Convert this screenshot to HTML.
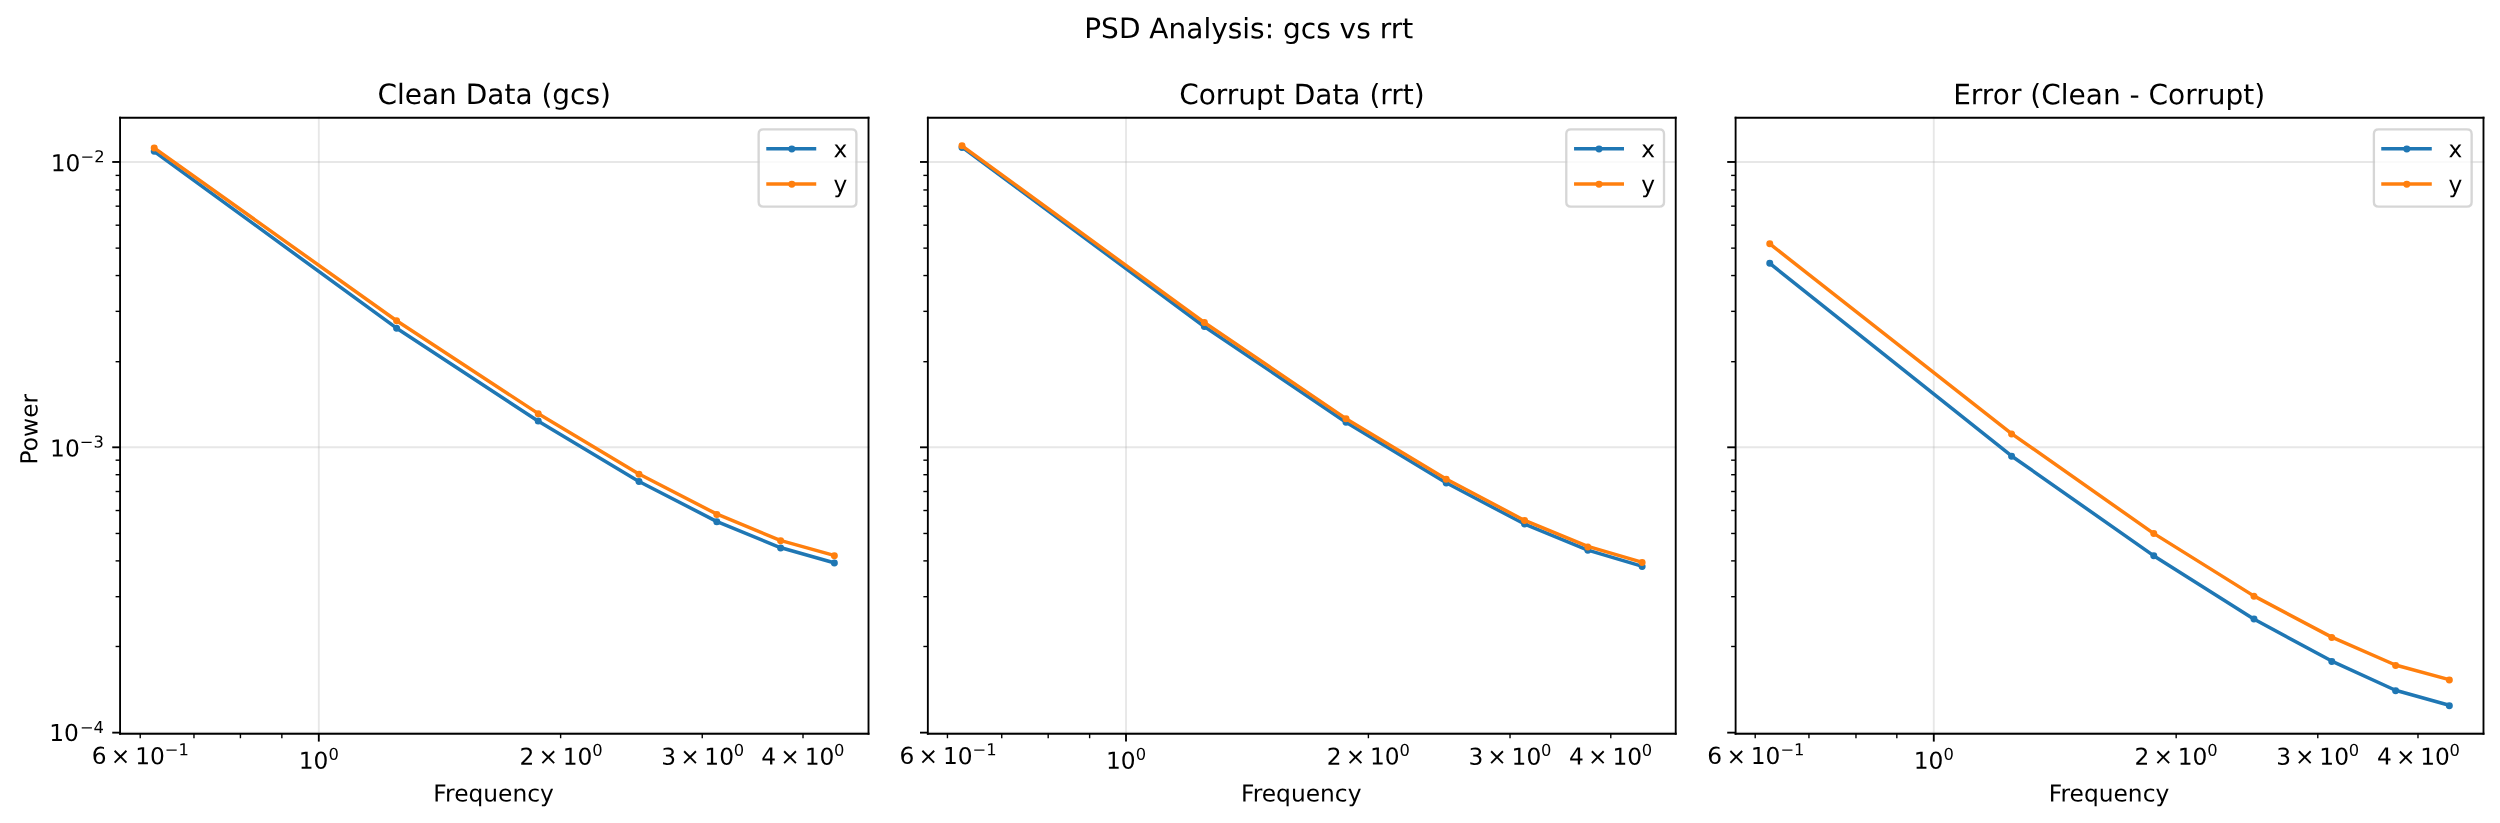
<!DOCTYPE html>
<html lang="en">
<head>
<meta charset="utf-8">
<title>PSD Analysis: gcs vs rrt</title>
<style>
html,body{margin:0;padding:0;background:#fff;}
body{width:2500px;height:823px;overflow:hidden;font-family:"DejaVu Sans","Liberation Sans",sans-serif;}
svg{display:block;will-change:transform;}
svg *{stroke-linejoin:round;stroke-linecap:butt;}
svg g.t{transform-box:fill-box;transform-origin:center;transform:rotate(0.02deg);}
svg text{font-family:"DejaVu Sans","Liberation Sans",sans-serif;fill:#000;text-rendering:geometricPrecision;}
</style>
</head>
<body>
<svg width="2500" height="823" viewBox="0 0.1680 1071.8400 353.0400" preserveAspectRatio="none" role="img" aria-label="PSD Analysis: gcs vs rrt">
<g>
<path d="M 0 353.208 L 1071.8808 353.208 L 1071.8808 0 L 0 0 z" style="fill: #ffffff"/>
<g>
<path d="M 51.4779 314.728 L 372.1718 314.728 L 372.1718 50.64 L 51.4779 50.64 z" style="fill: #ffffff"/>
<g>
<g>
<path d="M 136.68 314.928 L 136.68 50.688" style="fill: none; stroke: #b0b0b0; stroke-opacity: 0.3; stroke-width: 0.8; stroke-linecap: square"/>
<path d="M 136.68 314.928 L 136.68 318.288" style="fill: none; stroke: #000000; stroke-width: 0.8"/>
<g>
<g transform="translate(127.671678 329.326437)">
<g transform="translate(0.353 1.501)">
<g class="t">
<text>
<tspan x="0.0374" y="-0.932" style="font-size: 10px">10</tspan>
<tspan x="12.777" y="-4.8107" style="font-size: 7px">0</tspan>
</text>
</g>
</g>
</g>
</g>
</g>
<g>
<path d="M 60.12 314.928 L 60.12 316.848" style="fill: none; stroke: #000000; stroke-width: 0.6"/>
<g>
<g transform="translate(38.888822 327.726437)">
<g transform="translate(0.727 0.157)">
<g class="t">
<text>
<tspan x="-0.3083" y="-0.0884" style="font-size: 10px">6</tspan>
<tspan x="7.8699" y="-0.0346" style="font-size: 10px">×</tspan>
<tspan x="18.3761" y="0.1234" style="font-size: 10px">10</tspan>
<tspan x="31.0398" y="-3.7828" style="font-size: 7px">−1</tspan>
</text>
</g>
</g>
</g>
</g>
</g>
<path d="M 83.16 314.928 L 83.16 316.848" style="fill: none; stroke: #000000; stroke-width: 0.6"/>
<path d="M 103.08 314.928 L 103.08 316.848" style="fill: none; stroke: #000000; stroke-width: 0.6"/>
<path d="M 120.84 314.928 L 120.84 316.848" style="fill: none; stroke: #000000; stroke-width: 0.6"/>
<g>
<path d="M 240.36 314.928 L 240.36 316.848" style="fill: none; stroke: #000000; stroke-width: 0.6"/>
<g>
<g transform="translate(222.220293 327.726437)">
<g transform="translate(0.558 1.423)">
<g class="t">
<text>
<tspan x="-0.1022" y="-0.9137" style="font-size: 10px">2</tspan>
<tspan x="8.0845" y="-1.0806" style="font-size: 10px">×</tspan>
<tspan x="18.4731" y="-0.8924" style="font-size: 10px">10</tspan>
<tspan x="31.1741" y="-4.8199" style="font-size: 7px">0</tspan>
</text>
</g>
</g>
</g>
</g>
</g>
<g>
<path d="M 301.08 314.928 L 301.08 316.848" style="fill: none; stroke: #000000; stroke-width: 0.6"/>
<g>
<g transform="translate(282.967838 327.726437)">
<g transform="translate(0.333 1.509)">
<g class="t">
<text>
<tspan x="0.1706" y="-1.0147" style="font-size: 10px">3</tspan>
<tspan x="8.3053" y="-1.0979" style="font-size: 10px">×</tspan>
<tspan x="18.6745" y="-1.0122" style="font-size: 10px">10</tspan>
<tspan x="31.3035" y="-4.8675" style="font-size: 7px">0</tspan>
</text>
</g>
</g>
</g>
</g>
</g>
<g>
<path d="M 344.28 314.928 L 344.28 316.848" style="fill: none; stroke: #000000; stroke-width: 0.6"/>
<g>
<g transform="translate(326.068908 327.726437)">
<g transform="translate(0.373 1.412)">
<g class="t">
<text>
<tspan x="-0.07" y="-1.0128" style="font-size: 10px">4</tspan>
<tspan x="8.1178" y="-1.0469" style="font-size: 10px">×</tspan>
<tspan x="18.5892" y="-0.9117" style="font-size: 10px">10</tspan>
<tspan x="31.1249" y="-4.7516" style="font-size: 7px">0</tspan>
</text>
</g>
</g>
</g>
</g>
</g>
<g>
<g transform="translate(-0.187 0.949)">
<g class="t">
<text style="font-size: 10px; text-anchor: middle" x="211.82481" y="343.004562">Frequency</text>
</g>
</g>
</g>
</g>
<g>
<g>
<path d="M 51.48 314.448 L 372.36 314.448" style="fill: none; stroke: #b0b0b0; stroke-opacity: 0.3; stroke-width: 0.8; stroke-linecap: square"/>
<path d="M 51.48 314.448 L 48.12 314.448" style="fill: none; stroke: #000000; stroke-width: 0.8"/>
<g>
<g transform="translate(20.977854 318.098504)">
<g transform="translate(0.524 0.184)">
<g class="t">
<text>
<tspan x="-0.4287" y="-0.2785" style="font-size: 10px">10</tspan>
<tspan x="12.7698" y="-3.7228" style="font-size: 7px">−4</tspan>
</text>
</g>
</g>
</g>
</g>
</g>
<g>
<path d="M 51.48 192.048 L 372.36 192.048" style="fill: none; stroke: #b0b0b0; stroke-opacity: 0.3; stroke-width: 0.8; stroke-linecap: square"/>
<path d="M 51.48 192.048 L 48.12 192.048" style="fill: none; stroke: #000000; stroke-width: 0.8"/>
<g>
<g transform="translate(20.977854 195.743447)">
<g transform="translate(0.369 1.138)">
<g class="t">
<text>
<tspan x="0.1553" y="-0.8817" style="font-size: 10px">10</tspan>
<tspan x="12.8478" y="-4.8029" style="font-size: 7px">−3</tspan>
</text>
</g>
</g>
</g>
</g>
</g>
<g>
<path d="M 51.48 69.648 L 372.36 69.648" style="fill: none; stroke: #b0b0b0; stroke-opacity: 0.3; stroke-width: 0.8; stroke-linecap: square"/>
<path d="M 51.48 69.648 L 48.12 69.648" style="fill: none; stroke: #000000; stroke-width: 0.8"/>
<g>
<g transform="translate(20.977854 73.38839)">
<g transform="translate(0.892 1.068)">
<g class="t">
<text>
<tspan x="-0.1113" y="-0.8904" style="font-size: 10px">10</tspan>
<tspan x="12.6424" y="-4.6799" style="font-size: 7px">−2</tspan>
</text>
</g>
</g>
</g>
</g>
</g>
<path d="M 51.48 277.488 L 49.56 277.488" style="fill: none; stroke: #000000; stroke-width: 0.6"/>
<path d="M 51.48 256.128 L 49.56 256.128" style="fill: none; stroke: #000000; stroke-width: 0.6"/>
<path d="M 51.48 240.768 L 49.56 240.768" style="fill: none; stroke: #000000; stroke-width: 0.6"/>
<path d="M 51.48 229.008 L 49.56 229.008" style="fill: none; stroke: #000000; stroke-width: 0.6"/>
<path d="M 51.48 219.168 L 49.56 219.168" style="fill: none; stroke: #000000; stroke-width: 0.6"/>
<path d="M 51.48 211.008 L 49.56 211.008" style="fill: none; stroke: #000000; stroke-width: 0.6"/>
<path d="M 51.48 203.808 L 49.56 203.808" style="fill: none; stroke: #000000; stroke-width: 0.6"/>
<path d="M 51.48 197.568 L 49.56 197.568" style="fill: none; stroke: #000000; stroke-width: 0.6"/>
<path d="M 51.48 155.328 L 49.56 155.328" style="fill: none; stroke: #000000; stroke-width: 0.6"/>
<path d="M 51.48 133.728 L 49.56 133.728" style="fill: none; stroke: #000000; stroke-width: 0.6"/>
<path d="M 51.48 118.368 L 49.56 118.368" style="fill: none; stroke: #000000; stroke-width: 0.6"/>
<path d="M 51.48 106.608 L 49.56 106.608" style="fill: none; stroke: #000000; stroke-width: 0.6"/>
<path d="M 51.48 96.768 L 49.56 96.768" style="fill: none; stroke: #000000; stroke-width: 0.6"/>
<path d="M 51.48 88.608 L 49.56 88.608" style="fill: none; stroke: #000000; stroke-width: 0.6"/>
<path d="M 51.48 81.648 L 49.56 81.648" style="fill: none; stroke: #000000; stroke-width: 0.6"/>
<path d="M 51.48 75.408 L 49.56 75.408" style="fill: none; stroke: #000000; stroke-width: 0.6"/>
<g>
<g transform="translate(1.140 1.577)">
<g class="t">
<text style="font-size: 10px; text-anchor: middle" x="14.898166" y="182.684" transform="rotate(-90 14.898166 182.684)">Power</text>
</g>
</g>
</g>
</g>
<g>
<path d="M 66.0549 65.0877 L 169.9035 140.8415 L 230.651 180.7548 L 273.7521 206.6063 L 307.1839 223.7977 L 334.4996 235.0514 L 357.5948 241.5893" style="fill: none; stroke: #1f77b4; stroke-width: 1.5; stroke-linecap: square"/>
<g>
<circle cx="66.1200" cy="65.0880" r="1" style="fill: #1f77b4; stroke: #1f77b4; stroke-width: 1"/>
<circle cx="170.0400" cy="140.9280" r="1" style="fill: #1f77b4; stroke: #1f77b4; stroke-width: 1"/>
<circle cx="230.7600" cy="180.7680" r="1" style="fill: #1f77b4; stroke: #1f77b4; stroke-width: 1"/>
<circle cx="273.9600" cy="206.6880" r="1" style="fill: #1f77b4; stroke: #1f77b4; stroke-width: 1"/>
<circle cx="307.3200" cy="223.9680" r="1" style="fill: #1f77b4; stroke: #1f77b4; stroke-width: 1"/>
<circle cx="334.6800" cy="235.2480" r="1" style="fill: #1f77b4; stroke: #1f77b4; stroke-width: 1"/>
<circle cx="357.7200" cy="241.7280" r="1" style="fill: #1f77b4; stroke: #1f77b4; stroke-width: 1"/>
</g>
</g>
<g>
<path d="M 66.0549 63.5872 L 169.9035 137.669 L 230.651 177.4966 L 273.7521 203.3909 L 307.1839 220.6252 L 334.4996 231.9433 L 357.5948 238.3954" style="fill: none; stroke: #ff7f0e; stroke-width: 1.5; stroke-linecap: square"/>
<g>
<circle cx="66.1200" cy="63.6480" r="1" style="fill: #ff7f0e; stroke: #ff7f0e; stroke-width: 1"/>
<circle cx="170.0400" cy="137.8080" r="1" style="fill: #ff7f0e; stroke: #ff7f0e; stroke-width: 1"/>
<circle cx="230.7600" cy="177.6480" r="1" style="fill: #ff7f0e; stroke: #ff7f0e; stroke-width: 1"/>
<circle cx="273.9600" cy="203.5680" r="1" style="fill: #ff7f0e; stroke: #ff7f0e; stroke-width: 1"/>
<circle cx="307.3200" cy="220.8480" r="1" style="fill: #ff7f0e; stroke: #ff7f0e; stroke-width: 1"/>
<circle cx="334.6800" cy="232.1280" r="1" style="fill: #ff7f0e; stroke: #ff7f0e; stroke-width: 1"/>
<circle cx="357.7200" cy="238.6080" r="1" style="fill: #ff7f0e; stroke: #ff7f0e; stroke-width: 1"/>
</g>
</g>
<path d="M 51.48 314.928 L 51.48 50.688" style="fill: none; stroke: #000000; stroke-width: 0.8; stroke-linejoin: miter; stroke-linecap: square"/>
<path d="M 372.36 314.928 L 372.36 50.688" style="fill: none; stroke: #000000; stroke-width: 0.8; stroke-linejoin: miter; stroke-linecap: square"/>
<path d="M 51.48 314.928 L 372.36 314.928" style="fill: none; stroke: #000000; stroke-width: 0.8; stroke-linejoin: miter; stroke-linecap: square"/>
<path d="M 51.48 50.688 L 372.36 50.688" style="fill: none; stroke: #000000; stroke-width: 0.8; stroke-linejoin: miter; stroke-linecap: square"/>
<g>
<g transform="translate(0.062 0.124)">
<g class="t">
<text style="font-size: 12px; text-anchor: middle" x="211.82481" y="44.64">Clean Data (gcs)</text>
</g>
</g>
</g>
<g>
<path d="M 327.262 88.8 L 365.172 88.8 Q 367.172 88.8 367.172 86.8 L 367.172 57.64 Q 367.172 55.64 365.172 55.64 L 327.262 55.64 Q 325.262 55.64 325.262 57.64 L 325.262 86.8 Q 325.262 88.8 327.262 88.8 z" style="fill: #ffffff; opacity: 0.8; stroke: #cccccc; stroke-linejoin: miter"/>
<path d="M 329.28 64.008 L 349.2 64.008" style="fill: none; stroke: #1f77b4; stroke-width: 1.5; stroke-linecap: square"/>
<circle cx="339.4800" cy="64.1280" r="1" style="fill: #1f77b4; stroke: #1f77b4; stroke-width: 1"/>
<g transform="translate(0.138 0.031)">
<g class="t">
<text style="font-size: 10px; text-anchor: start" x="357.262" y="67.560">x</text>
</g>
</g>
<path d="M 329.28 79.128 L 349.2 79.128" style="fill: none; stroke: #ff7f0e; stroke-width: 1.5; stroke-linecap: square"/>
<circle cx="339.4800" cy="79.2480" r="1" style="fill: #ff7f0e; stroke: #ff7f0e; stroke-width: 1"/>
<g transform="translate(0.073 0.124)">
<g class="t">
<text style="font-size: 10px; text-anchor: start" x="357.262" y="82.640">y</text>
</g>
</g>
</g>
</g>
<g>
<path d="M 397.7324 314.728 L 718.4263 314.728 L 718.4263 50.64 L 397.7324 50.64 z" style="fill: #ffffff"/>
<g>
<g>
<path d="M 482.76 314.928 L 482.76 50.688" style="fill: none; stroke: #b0b0b0; stroke-opacity: 0.3; stroke-width: 0.8; stroke-linecap: square"/>
<path d="M 482.76 314.928 L 482.76 318.288" style="fill: none; stroke: #000000; stroke-width: 0.8"/>
<g>
<g transform="translate(473.926195 329.326437)">
<g transform="translate(0.205 1.489)">
<g class="t">
<text>
<tspan x="-0.0003" y="-0.8917" style="font-size: 10px">10</tspan>
<tspan x="12.8716" y="-4.7893" style="font-size: 7px">0</tspan>
</text>
</g>
</g>
</g>
</g>
</g>
<g>
<path d="M 406.2 314.928 L 406.2 316.848" style="fill: none; stroke: #000000; stroke-width: 0.6"/>
<g>
<g transform="translate(385.143339 327.726437)">
<g transform="translate(0.617 0.180)">
<g class="t">
<text>
<tspan x="-0.0688" y="-0.1488" style="font-size: 10px">6</tspan>
<tspan x="7.9985" y="0.0195" style="font-size: 10px">×</tspan>
<tspan x="18.5406" y="0.0397" style="font-size: 10px">10</tspan>
<tspan x="31.2263" y="-3.7501" style="font-size: 7px">−1</tspan>
</text>
</g>
</g>
</g>
</g>
</g>
<path d="M 429.48 314.928 L 429.48 316.848" style="fill: none; stroke: #000000; stroke-width: 0.6"/>
<path d="M 449.4 314.928 L 449.4 316.848" style="fill: none; stroke: #000000; stroke-width: 0.6"/>
<path d="M 467.16 314.928 L 467.16 316.848" style="fill: none; stroke: #000000; stroke-width: 0.6"/>
<g>
<path d="M 586.68 314.928 L 586.68 316.848" style="fill: none; stroke: #000000; stroke-width: 0.6"/>
<g>
<g transform="translate(568.47481 327.726437)">
<g transform="translate(0.340 1.437)">
<g class="t">
<text>
<tspan x="0.0208" y="-0.9021" style="font-size: 10px">2</tspan>
<tspan x="8.1963" y="-1.0605" style="font-size: 10px">×</tspan>
<tspan x="18.5217" y="-1.0089" style="font-size: 10px">10</tspan>
<tspan x="31.2214" y="-4.8602" style="font-size: 7px">0</tspan>
</text>
</g>
</g>
</g>
</g>
</g>
<g>
<path d="M 647.4 314.928 L 647.4 316.848" style="fill: none; stroke: #000000; stroke-width: 0.6"/>
<g>
<g transform="translate(629.222355 327.726437)">
<g transform="translate(0.233 1.422)">
<g class="t">
<text>
<tspan x="0.097" y="-0.9823" style="font-size: 10px">3</tspan>
<tspan x="8.238" y="-1.0909" style="font-size: 10px">×</tspan>
<tspan x="18.6354" y="-0.894" style="font-size: 10px">10</tspan>
<tspan x="31.2008" y="-4.7893" style="font-size: 7px">0</tspan>
</text>
</g>
</g>
</g>
</g>
</g>
<g>
<path d="M 690.6 314.928 L 690.6 316.848" style="fill: none; stroke: #000000; stroke-width: 0.6"/>
<g>
<g transform="translate(672.323425 327.726437)">
<g transform="translate(0.437 1.402)">
<g class="t">
<text>
<tspan x="-0.07" y="-1.0235" style="font-size: 10px">4</tspan>
<tspan x="8.0397" y="-1.0548" style="font-size: 10px">×</tspan>
<tspan x="18.5602" y="-0.8714" style="font-size: 10px">10</tspan>
<tspan x="31.1228" y="-4.7717" style="font-size: 7px">0</tspan>
</text>
</g>
</g>
</g>
</g>
</g>
<g>
<g transform="translate(-0.194 0.949)">
<g class="t">
<text style="font-size: 10px; text-anchor: middle" x="558.079327" y="343.004562">Frequency</text>
</g>
</g>
</g>
</g>
<g>
<g>
<path d="M 397.8 314.448 L 718.44 314.448" style="fill: none; stroke: #b0b0b0; stroke-opacity: 0.3; stroke-width: 0.8; stroke-linecap: square"/>
<path d="M 397.8 314.448 L 394.44 314.448" style="fill: none; stroke: #000000; stroke-width: 0.8"/>
</g>
<g>
<path d="M 397.8 192.048 L 718.44 192.048" style="fill: none; stroke: #b0b0b0; stroke-opacity: 0.3; stroke-width: 0.8; stroke-linecap: square"/>
<path d="M 397.8 192.048 L 394.44 192.048" style="fill: none; stroke: #000000; stroke-width: 0.8"/>
</g>
<g>
<path d="M 397.8 69.648 L 718.44 69.648" style="fill: none; stroke: #b0b0b0; stroke-opacity: 0.3; stroke-width: 0.8; stroke-linecap: square"/>
<path d="M 397.8 69.648 L 394.44 69.648" style="fill: none; stroke: #000000; stroke-width: 0.8"/>
</g>
<path d="M 397.8 277.488 L 395.88 277.488" style="fill: none; stroke: #000000; stroke-width: 0.6"/>
<path d="M 397.8 256.128 L 395.88 256.128" style="fill: none; stroke: #000000; stroke-width: 0.6"/>
<path d="M 397.8 240.768 L 395.88 240.768" style="fill: none; stroke: #000000; stroke-width: 0.6"/>
<path d="M 397.8 229.008 L 395.88 229.008" style="fill: none; stroke: #000000; stroke-width: 0.6"/>
<path d="M 397.8 219.168 L 395.88 219.168" style="fill: none; stroke: #000000; stroke-width: 0.6"/>
<path d="M 397.8 211.008 L 395.88 211.008" style="fill: none; stroke: #000000; stroke-width: 0.6"/>
<path d="M 397.8 203.808 L 395.88 203.808" style="fill: none; stroke: #000000; stroke-width: 0.6"/>
<path d="M 397.8 197.568 L 395.88 197.568" style="fill: none; stroke: #000000; stroke-width: 0.6"/>
<path d="M 397.8 155.328 L 395.88 155.328" style="fill: none; stroke: #000000; stroke-width: 0.6"/>
<path d="M 397.8 133.728 L 395.88 133.728" style="fill: none; stroke: #000000; stroke-width: 0.6"/>
<path d="M 397.8 118.368 L 395.88 118.368" style="fill: none; stroke: #000000; stroke-width: 0.6"/>
<path d="M 397.8 106.608 L 395.88 106.608" style="fill: none; stroke: #000000; stroke-width: 0.6"/>
<path d="M 397.8 96.768 L 395.88 96.768" style="fill: none; stroke: #000000; stroke-width: 0.6"/>
<path d="M 397.8 88.608 L 395.88 88.608" style="fill: none; stroke: #000000; stroke-width: 0.6"/>
<path d="M 397.8 81.648 L 395.88 81.648" style="fill: none; stroke: #000000; stroke-width: 0.6"/>
<path d="M 397.8 75.408 L 395.88 75.408" style="fill: none; stroke: #000000; stroke-width: 0.6"/>
</g>
<g>
<path d="M 412.3094 63.2013 L 516.158 140.1127 L 576.9055 181.1835 L 620.0066 207.2493 L 653.4384 224.8695 L 680.7541 236.1447 L 703.8493 243.047" style="fill: none; stroke: #1f77b4; stroke-width: 1.5; stroke-linecap: square"/>
<g>
<circle cx="412.4400" cy="63.4080" r="1" style="fill: #1f77b4; stroke: #1f77b4; stroke-width: 1"/>
<circle cx="516.3600" cy="140.2080" r="1" style="fill: #1f77b4; stroke: #1f77b4; stroke-width: 1"/>
<circle cx="577.0800" cy="181.2480" r="1" style="fill: #1f77b4; stroke: #1f77b4; stroke-width: 1"/>
<circle cx="620.0400" cy="207.4080" r="1" style="fill: #1f77b4; stroke: #1f77b4; stroke-width: 1"/>
<circle cx="653.6400" cy="224.9280" r="1" style="fill: #1f77b4; stroke: #1f77b4; stroke-width: 1"/>
<circle cx="680.7600" cy="236.2080" r="1" style="fill: #1f77b4; stroke: #1f77b4; stroke-width: 1"/>
<circle cx="704.0400" cy="243.1680" r="1" style="fill: #1f77b4; stroke: #1f77b4; stroke-width: 1"/>
</g>
</g>
<g>
<path d="M 412.3094 62.644 L 516.158 138.3978 L 576.9055 179.6401 L 620.0066 205.6202 L 653.4384 223.3261 L 680.7541 234.5584 L 703.8493 241.3321" style="fill: none; stroke: #ff7f0e; stroke-width: 1.5; stroke-linecap: square"/>
<g>
<circle cx="412.4400" cy="62.6880" r="1" style="fill: #ff7f0e; stroke: #ff7f0e; stroke-width: 1"/>
<circle cx="516.3600" cy="138.5280" r="1" style="fill: #ff7f0e; stroke: #ff7f0e; stroke-width: 1"/>
<circle cx="577.0800" cy="179.8080" r="1" style="fill: #ff7f0e; stroke: #ff7f0e; stroke-width: 1"/>
<circle cx="620.0400" cy="205.7280" r="1" style="fill: #ff7f0e; stroke: #ff7f0e; stroke-width: 1"/>
<circle cx="653.6400" cy="223.4880" r="1" style="fill: #ff7f0e; stroke: #ff7f0e; stroke-width: 1"/>
<circle cx="680.7600" cy="234.7680" r="1" style="fill: #ff7f0e; stroke: #ff7f0e; stroke-width: 1"/>
<circle cx="704.0400" cy="241.4880" r="1" style="fill: #ff7f0e; stroke: #ff7f0e; stroke-width: 1"/>
</g>
</g>
<path d="M 397.8 314.928 L 397.8 50.688" style="fill: none; stroke: #000000; stroke-width: 0.8; stroke-linejoin: miter; stroke-linecap: square"/>
<path d="M 718.44 314.928 L 718.44 50.688" style="fill: none; stroke: #000000; stroke-width: 0.8; stroke-linejoin: miter; stroke-linecap: square"/>
<path d="M 397.8 314.928 L 718.44 314.928" style="fill: none; stroke: #000000; stroke-width: 0.8; stroke-linejoin: miter; stroke-linecap: square"/>
<path d="M 397.8 50.688 L 718.44 50.688" style="fill: none; stroke: #000000; stroke-width: 0.8; stroke-linejoin: miter; stroke-linecap: square"/>
<g>
<g transform="translate(0.114 0.227)">
<g class="t">
<text style="font-size: 12px; text-anchor: middle" x="558.079327" y="44.64">Corrupt Data (rrt)</text>
</g>
</g>
</g>
<g>
<path d="M 673.516 88.8 L 711.426 88.8 Q 713.426 88.8 713.426 86.8 L 713.426 57.64 Q 713.426 55.64 711.426 55.64 L 673.516 55.64 Q 671.516 55.64 671.516 57.64 L 671.516 86.8 Q 671.516 88.8 673.516 88.8 z" style="fill: #ffffff; opacity: 0.8; stroke: #cccccc; stroke-linejoin: miter"/>
<path d="M 675.6 64.008 L 695.52 64.008" style="fill: none; stroke: #1f77b4; stroke-width: 1.5; stroke-linecap: square"/>
<circle cx="685.5600" cy="64.1280" r="1" style="fill: #1f77b4; stroke: #1f77b4; stroke-width: 1"/>
<g transform="translate(0.196 0.105)">
<g class="t">
<text style="font-size: 10px; text-anchor: start" x="703.516" y="67.560">x</text>
</g>
</g>
<path d="M 675.6 79.128 L 695.52 79.128" style="fill: none; stroke: #ff7f0e; stroke-width: 1.5; stroke-linecap: square"/>
<circle cx="685.5600" cy="79.2480" r="1" style="fill: #ff7f0e; stroke: #ff7f0e; stroke-width: 1"/>
<g transform="translate(0.138 0.131)">
<g class="t">
<text style="font-size: 10px; text-anchor: start" x="703.516" y="82.640">y</text>
</g>
</g>
</g>
</g>
<g>
<path d="M 743.9869 314.728 L 1064.6808 314.728 L 1064.6808 50.64 L 743.9869 50.64 z" style="fill: #ffffff"/>
<g>
<g>
<path d="M 829.08 314.928 L 829.08 50.688" style="fill: none; stroke: #b0b0b0; stroke-opacity: 0.3; stroke-width: 0.8; stroke-linecap: square"/>
<path d="M 829.08 314.928 L 829.08 318.288" style="fill: none; stroke: #000000; stroke-width: 0.8"/>
<g>
<g transform="translate(820.180712 329.326437)">
<g transform="translate(0.219 1.549)">
<g class="t">
<text>
<tspan x="0.0714" y="-0.9525" style="font-size: 10px">10</tspan>
<tspan x="12.8824" y="-4.7633" style="font-size: 7px">0</tspan>
</text>
</g>
</g>
</g>
</g>
</g>
<g>
<path d="M 752.52 314.928 L 752.52 316.848" style="fill: none; stroke: #000000; stroke-width: 0.6"/>
<g>
<g transform="translate(731.397856 327.726437)">
<g transform="translate(0.530 0.217)">
<g class="t">
<text>
<tspan x="0.0179" y="-0.2029" style="font-size: 10px">6</tspan>
<tspan x="8.2755" y="0.0014" style="font-size: 10px">×</tspan>
<tspan x="18.6653" y="-0.1087" style="font-size: 10px">10</tspan>
<tspan x="31.4087" y="-3.8545" style="font-size: 7px">−1</tspan>
</text>
</g>
</g>
</g>
</g>
</g>
<path d="M 775.56 314.928 L 775.56 316.848" style="fill: none; stroke: #000000; stroke-width: 0.6"/>
<path d="M 795.72 314.928 L 795.72 316.848" style="fill: none; stroke: #000000; stroke-width: 0.6"/>
<path d="M 813.24 314.928 L 813.24 316.848" style="fill: none; stroke: #000000; stroke-width: 0.6"/>
<g>
<path d="M 933 314.928 L 933 316.848" style="fill: none; stroke: #000000; stroke-width: 0.6"/>
<g>
<g transform="translate(914.729327 327.726437)">
<g transform="translate(0.436 1.423)">
<g class="t">
<text>
<tspan x="0.0112" y="-0.9453" style="font-size: 10px">2</tspan>
<tspan x="8.1436" y="-1.0756" style="font-size: 10px">×</tspan>
<tspan x="18.5234" y="-0.8956" style="font-size: 10px">10</tspan>
<tspan x="31.121" y="-4.765" style="font-size: 7px">0</tspan>
</text>
</g>
</g>
</g>
</g>
</g>
<g>
<path d="M 993.72 314.928 L 993.72 316.848" style="fill: none; stroke: #000000; stroke-width: 0.6"/>
<g>
<g transform="translate(975.476872 327.726437)">
<g transform="translate(0.112 1.388)">
<g class="t">
<text>
<tspan x="0.3131" y="-0.8975" style="font-size: 10px">3</tspan>
<tspan x="8.3952" y="-1.053" style="font-size: 10px">×</tspan>
<tspan x="18.7866" y="-0.8698" style="font-size: 10px">10</tspan>
<tspan x="31.4634" y="-4.7906" style="font-size: 7px">0</tspan>
</text>
</g>
</g>
</g>
</g>
</g>
<g>
<path d="M 1036.68 314.928 L 1036.68 316.848" style="fill: none; stroke: #000000; stroke-width: 0.6"/>
<g>
<g transform="translate(1018.577942 327.726437)">
<g transform="translate(0.474 1.367)">
<g class="t">
<text>
<tspan x="0.0436" y="-0.9352" style="font-size: 10px">4</tspan>
<tspan x="8.1996" y="-0.928" style="font-size: 10px">×</tspan>
<tspan x="18.5724" y="-0.8736" style="font-size: 10px">10</tspan>
<tspan x="31.1368" y="-4.7746" style="font-size: 7px">0</tspan>
</text>
</g>
</g>
</g>
</g>
</g>
<g>
<g transform="translate(-0.104 0.949)">
<g class="t">
<text style="font-size: 10px; text-anchor: middle" x="904.333844" y="343.004562">Frequency</text>
</g>
</g>
</g>
</g>
<g>
<g>
<path d="M 744.12 314.448 L 1064.76 314.448" style="fill: none; stroke: #b0b0b0; stroke-opacity: 0.3; stroke-width: 0.8; stroke-linecap: square"/>
<path d="M 744.12 314.448 L 740.52 314.448" style="fill: none; stroke: #000000; stroke-width: 0.8"/>
</g>
<g>
<path d="M 744.12 192.048 L 1064.76 192.048" style="fill: none; stroke: #b0b0b0; stroke-opacity: 0.3; stroke-width: 0.8; stroke-linecap: square"/>
<path d="M 744.12 192.048 L 740.52 192.048" style="fill: none; stroke: #000000; stroke-width: 0.8"/>
</g>
<g>
<path d="M 744.12 69.648 L 1064.76 69.648" style="fill: none; stroke: #b0b0b0; stroke-opacity: 0.3; stroke-width: 0.8; stroke-linecap: square"/>
<path d="M 744.12 69.648 L 740.52 69.648" style="fill: none; stroke: #000000; stroke-width: 0.8"/>
</g>
<path d="M 744.12 277.488 L 742.2 277.488" style="fill: none; stroke: #000000; stroke-width: 0.6"/>
<path d="M 744.12 256.128 L 742.2 256.128" style="fill: none; stroke: #000000; stroke-width: 0.6"/>
<path d="M 744.12 240.768 L 742.2 240.768" style="fill: none; stroke: #000000; stroke-width: 0.6"/>
<path d="M 744.12 229.008 L 742.2 229.008" style="fill: none; stroke: #000000; stroke-width: 0.6"/>
<path d="M 744.12 219.168 L 742.2 219.168" style="fill: none; stroke: #000000; stroke-width: 0.6"/>
<path d="M 744.12 211.008 L 742.2 211.008" style="fill: none; stroke: #000000; stroke-width: 0.6"/>
<path d="M 744.12 203.808 L 742.2 203.808" style="fill: none; stroke: #000000; stroke-width: 0.6"/>
<path d="M 744.12 197.568 L 742.2 197.568" style="fill: none; stroke: #000000; stroke-width: 0.6"/>
<path d="M 744.12 155.328 L 742.2 155.328" style="fill: none; stroke: #000000; stroke-width: 0.6"/>
<path d="M 744.12 133.728 L 742.2 133.728" style="fill: none; stroke: #000000; stroke-width: 0.6"/>
<path d="M 744.12 118.368 L 742.2 118.368" style="fill: none; stroke: #000000; stroke-width: 0.6"/>
<path d="M 744.12 106.608 L 742.2 106.608" style="fill: none; stroke: #000000; stroke-width: 0.6"/>
<path d="M 744.12 96.768 L 742.2 96.768" style="fill: none; stroke: #000000; stroke-width: 0.6"/>
<path d="M 744.12 88.608 L 742.2 88.608" style="fill: none; stroke: #000000; stroke-width: 0.6"/>
<path d="M 744.12 81.648 L 742.2 81.648" style="fill: none; stroke: #000000; stroke-width: 0.6"/>
<path d="M 744.12 75.408 L 742.2 75.408" style="fill: none; stroke: #000000; stroke-width: 0.6"/>
</g>
<g>
<path d="M 758.5639 112.9751 L 862.4125 195.7598 L 923.16 238.4169 L 966.2611 265.726 L 999.6929 283.732 L 1027.0087 296.2504 L 1050.1038 302.724" style="fill: none; stroke: #1f77b4; stroke-width: 1.5; stroke-linecap: square"/>
<g>
<circle cx="758.7600" cy="113.0880" r="1" style="fill: #1f77b4; stroke: #1f77b4; stroke-width: 1"/>
<circle cx="862.4400" cy="195.8880" r="1" style="fill: #1f77b4; stroke: #1f77b4; stroke-width: 1"/>
<circle cx="923.4000" cy="238.6080" r="1" style="fill: #1f77b4; stroke: #1f77b4; stroke-width: 1"/>
<circle cx="966.3600" cy="265.7280" r="1" style="fill: #1f77b4; stroke: #1f77b4; stroke-width: 1"/>
<circle cx="999.7200" cy="283.9680" r="1" style="fill: #1f77b4; stroke: #1f77b4; stroke-width: 1"/>
<circle cx="1027.0800" cy="296.4480" r="1" style="fill: #1f77b4; stroke: #1f77b4; stroke-width: 1"/>
<circle cx="1050.1200" cy="302.9280" r="1" style="fill: #1f77b4; stroke: #1f77b4; stroke-width: 1"/>
</g>
</g>
<g>
<path d="M 758.5639 104.6151 L 862.4125 186.1566 L 923.16 228.8565 L 966.2611 255.7798 L 999.6929 273.4857 L 1027.0087 285.4254 L 1050.1038 291.706" style="fill: none; stroke: #ff7f0e; stroke-width: 1.5; stroke-linecap: square"/>
<g>
<circle cx="758.7600" cy="104.6880" r="1" style="fill: #ff7f0e; stroke: #ff7f0e; stroke-width: 1"/>
<circle cx="862.4400" cy="186.2880" r="1" style="fill: #ff7f0e; stroke: #ff7f0e; stroke-width: 1"/>
<circle cx="923.4000" cy="229.0080" r="1" style="fill: #ff7f0e; stroke: #ff7f0e; stroke-width: 1"/>
<circle cx="966.3600" cy="255.8880" r="1" style="fill: #ff7f0e; stroke: #ff7f0e; stroke-width: 1"/>
<circle cx="999.7200" cy="273.6480" r="1" style="fill: #ff7f0e; stroke: #ff7f0e; stroke-width: 1"/>
<circle cx="1027.0800" cy="285.6480" r="1" style="fill: #ff7f0e; stroke: #ff7f0e; stroke-width: 1"/>
<circle cx="1050.1200" cy="291.8880" r="1" style="fill: #ff7f0e; stroke: #ff7f0e; stroke-width: 1"/>
</g>
</g>
<path d="M 744.12 314.928 L 744.12 50.688" style="fill: none; stroke: #000000; stroke-width: 0.8; stroke-linejoin: miter; stroke-linecap: square"/>
<path d="M 1064.76 314.928 L 1064.76 50.688" style="fill: none; stroke: #000000; stroke-width: 0.8; stroke-linejoin: miter; stroke-linecap: square"/>
<path d="M 744.12 314.928 L 1064.76 314.928" style="fill: none; stroke: #000000; stroke-width: 0.8; stroke-linejoin: miter; stroke-linecap: square"/>
<path d="M 744.12 50.688 L 1064.76 50.688" style="fill: none; stroke: #000000; stroke-width: 0.8; stroke-linejoin: miter; stroke-linecap: square"/>
<g>
<g transform="translate(-0.056 0.233)">
<g class="t">
<text style="font-size: 12px; text-anchor: middle" x="904.333844" y="44.64">Error (Clean - Corrupt)</text>
</g>
</g>
</g>
<g>
<path d="M 1019.771 88.8 L 1057.681 88.8 Q 1059.681 88.8 1059.681 86.8 L 1059.681 57.64 Q 1059.681 55.64 1057.681 55.64 L 1019.771 55.64 Q 1017.771 55.64 1017.771 57.64 L 1017.771 86.8 Q 1017.771 88.8 1019.771 88.8 z" style="fill: #ffffff; opacity: 0.8; stroke: #cccccc; stroke-linejoin: miter"/>
<path d="M 1021.68 64.008 L 1041.84 64.008" style="fill: none; stroke: #1f77b4; stroke-width: 1.5; stroke-linecap: square"/>
<circle cx="1031.8800" cy="64.1280" r="1" style="fill: #1f77b4; stroke: #1f77b4; stroke-width: 1"/>
<g transform="translate(-0.050 0.032)">
<g class="t">
<text style="font-size: 10px; text-anchor: start" x="1049.771" y="67.560">x</text>
</g>
</g>
<path d="M 1021.68 79.128 L 1041.84 79.128" style="fill: none; stroke: #ff7f0e; stroke-width: 1.5; stroke-linecap: square"/>
<circle cx="1031.8800" cy="79.2480" r="1" style="fill: #ff7f0e; stroke: #ff7f0e; stroke-width: 1"/>
<g transform="translate(-0.045 0.132)">
<g class="t">
<text style="font-size: 10px; text-anchor: start" x="1049.771" y="82.640">y</text>
</g>
</g>
</g>
</g>
<g>
<g transform="translate(-0.097 0.228)">
<g class="t">
<text style="font-size: 12px; text-anchor: middle" x="535.4808" y="16.318125">PSD Analysis: gcs vs rrt</text>
</g>
</g>
</g>
</g>
 

</svg>
</body>
</html>
